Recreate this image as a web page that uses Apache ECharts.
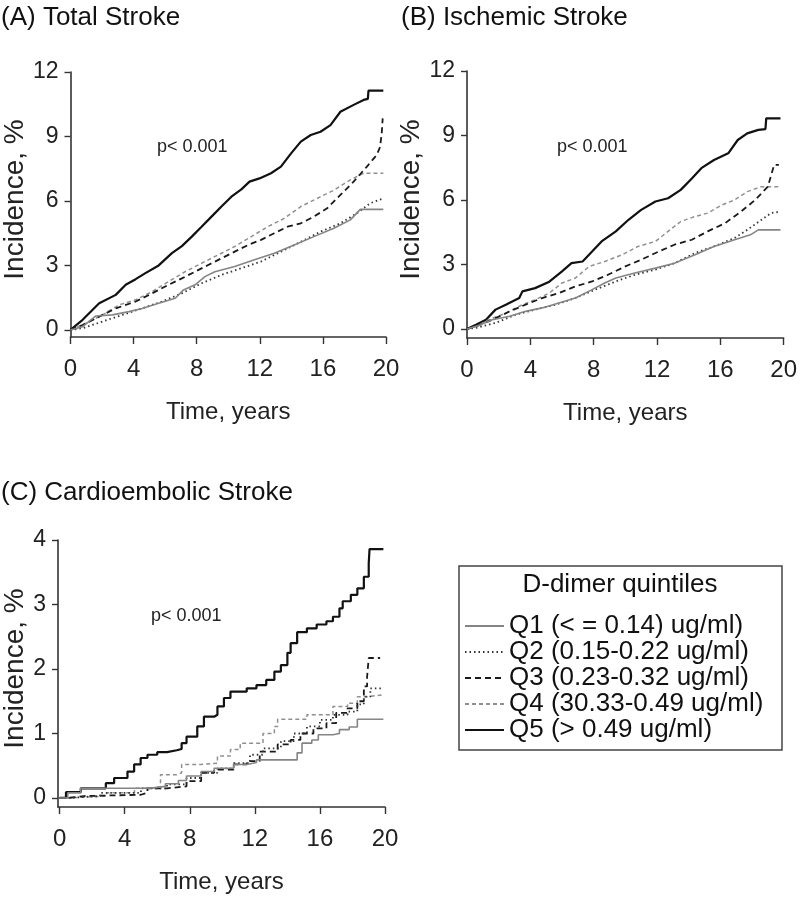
<!DOCTYPE html>
<html>
<head>
<meta charset="utf-8">
<script src="https://cdn.jsdelivr.net/npm/echarts@6/dist/echarts.min.js"></script>
<style>
html,body{margin:0;padding:0;background:#fff;}
#chart{width:800px;height:901px;}
</style>
</head>
<body>
<div id="chart"></div>
<script>
// ---------- data ----------
const seriesNames = [
  'Q1 (< = 0.14) ug/ml)',
  'Q2 (0.15-0.22 ug/ml)',
  'Q3 (0.23-0.32 ug/ml)',
  'Q4 (30.33-0.49 ug/ml)',
  'Q5 (> 0.49 ug/ml)'
];
const panelTitles = ['(A) Total Stroke', '(B) Ischemic Stroke', '(C) Cardioembolic Stroke'];
const pValueText = 'p< 0.001';
const legendTitle = 'D-dimer quintiles';
const xAxisTitle = 'Time, years';
const yAxisTitle = 'Incidence, %';
const xTicks = [0, 4, 8, 12, 16, 20];
const yTicksAB = [0, 3, 6, 9, 12];
const yTicksC = [0, 1, 2, 3, 4];

// Panel A: Total stroke
const q1A = [[0,0],[0.77,0.15],[1.61,0.65],[2.66,0.7],[3.71,0.85],[4.54,1.0],[5.59,1.24],[6.64,1.47],[7.16,1.86],[7.9,2.1],[8.52,2.48],[9.15,2.71],[10.41,2.95],[11.66,3.26],[12.92,3.57],[14.18,3.95],[15.43,4.34],[16.69,4.73],[17.74,5.12],[18.37,5.61],[19.83,5.61]];
const q2A = [[0,0],[0.77,0.08],[2.03,0.39],[3.29,0.7],[4.54,1.0],[5.8,1.32],[7.06,1.7],[8.31,2.17],[9.57,2.56],[10.83,2.87],[12.08,3.18],[13.34,3.64],[14.6,4.1],[15.85,4.57],[17.11,4.96],[18.16,5.43],[18.99,5.89],[19.83,6.12]];
const q3A = [[0,0],[0.77,0.23],[1.82,0.62],[2.87,1.0],[4.13,1.32],[5.17,1.7],[6.22,2.1],[7.06,2.4],[7.9,2.71],[8.73,3.02],[9.57,3.33],[10.41,3.64],[11.25,3.95],[12.08,4.19],[12.92,4.5],[13.76,4.8],[14.6,4.96],[15.43,5.27],[16.27,5.66],[17.11,6.28],[17.95,6.9],[18.79,7.6],[19.41,8.14],[19.62,8.5],[19.73,9.15],[19.79,9.84]];
const q4A = [[0,0],[0.77,0.23],[2.03,0.7],[3.08,1.16],[4.13,1.4],[5.17,1.78],[6.22,2.25],[7.27,2.71],[8.31,3.1],[9.36,3.49],[10.41,3.88],[11.46,4.34],[12.5,4.8],[13.55,5.19],[14.6,5.74],[15.64,6.12],[16.69,6.5],[17.74,6.98],[18.58,7.29],[19.83,7.29]];
const q5A = [[0,0],[0.77,0.47],[1.82,1.24],[2.87,1.63],[3.5,2.1],[4.13,2.36],[4.75,2.64],[5.59,3.0],[6.43,3.57],[7.06,3.9],[7.69,4.34],[8.31,4.8],[8.94,5.27],[9.57,5.74],[10.2,6.2],[10.83,6.54],[11.35,6.9],[11.98,7.05],[12.71,7.29],[13.34,7.6],[13.97,8.2],[14.6,8.76],[15.23,9.07],[15.85,9.22],[16.48,9.53],[17.11,10.15],[17.95,10.47],[18.58,10.7],[18.85,10.75],[18.89,11.13],[19.83,11.13]];

// Panel B: Ischemic stroke
const q1B = [[0,0],[0.57,0.12],[1.6,0.43],[2.7,0.59],[3.7,0.82],[4.75,0.98],[5.8,1.21],[6.85,1.44],[7.9,1.83],[8.7,2.14],[9.4,2.37],[10.6,2.6],[11.9,2.83],[13.1,3.06],[14.4,3.45],[15.6,3.84],[16.9,4.15],[17.9,4.38],[18.4,4.61],[19.8,4.61]];
const q2B = [[0,0],[0.57,0.05],[1.8,0.28],[3.1,0.67],[4.3,0.9],[5.6,1.13],[6.85,1.44],[8.1,1.83],[9.4,2.21],[10.6,2.52],[11.9,2.76],[13.1,3.06],[14.4,3.53],[15.6,3.84],[16.9,4.23],[17.7,4.61],[18.6,5.08],[19.2,5.39],[19.8,5.46]];
const q3B = [[0,0],[0.57,0.12],[1.6,0.43],[2.7,0.82],[3.7,1.13],[4.75,1.44],[5.8,1.67],[6.85,1.98],[7.9,2.21],[8.9,2.52],[10.0,2.91],[11.0,3.22],[12.1,3.6],[13.1,3.92],[14.2,4.15],[15.2,4.54],[16.3,4.92],[17.3,5.46],[18.2,6.0],[19.0,6.62],[19.4,7.63],[19.7,7.63]];
const q4B = [[0,0],[0.57,0.12],[1.4,0.43],[2.45,0.74],[3.5,1.13],[4.3,1.36],[5.2,1.67],[6.0,2.14],[6.85,2.37],[7.7,2.9],[8.7,3.14],[9.8,3.45],[10.8,3.84],[11.9,4.07],[12.7,4.54],[13.5,5.0],[14.4,5.23],[15.2,5.39],[16.1,5.77],[16.9,6.0],[17.7,6.39],[18.6,6.62],[19.8,6.62]];
const q5B = [[0,0],[0.57,0.2],[1.2,0.43],[1.8,0.9],[2.45,1.13],[3.3,1.44],[3.5,1.75],[4.3,1.9],[5.2,2.2],[6.0,2.68],[6.6,3.06],[7.3,3.14],[7.9,3.6],[8.5,4.07],[9.4,4.54],[10.2,5.08],[11.0,5.54],[11.9,5.93],[12.7,6.08],[13.5,6.47],[14.2,7.0],[14.8,7.48],[15.6,7.86],[16.5,8.17],[17.1,8.79],[17.7,9.1],[18.4,9.26],[18.85,9.3],[18.9,9.8],[19.8,9.8]];

// Panel C: Cardioembolic stroke (step curves)
const q1C = [[0,0],[0.5,0.08],[1.3,0.15],[5.5,0.18],[6.5,0.22],[7.3,0.27],[7.8,0.34],[8.7,0.41],[9.5,0.46],[10.7,0.52],[11.5,0.55],[12.1,0.59],[14.6,0.7],[14.9,0.85],[15.5,0.9],[15.9,0.98],[16.8,1.0],[17.2,1.06],[17.8,1.1],[18.3,1.22],[19.9,1.22]];
const q2C = [[0,0],[0.5,0.03],[2.5,0.08],[5.0,0.15],[6.6,0.21],[7.8,0.31],[8.7,0.39],[9.7,0.46],[10.7,0.54],[11.7,0.67],[12.5,0.77],[13.6,0.88],[14.4,1.0],[15.2,1.11],[16.0,1.21],[16.8,1.29],[17.7,1.34],[18.3,1.45],[18.7,1.57],[19.1,1.7],[19.9,1.7]];
const q3C = [[0,0],[0.5,0.03],[1.5,0.05],[5.0,0.08],[5.4,0.15],[6.6,0.18],[7.8,0.26],[8.7,0.39],[9.5,0.44],[10.7,0.52],[11.5,0.57],[12.3,0.72],[13.4,0.83],[14.2,0.9],[14.8,1.0],[15.6,1.08],[16.4,1.16],[17.0,1.32],[17.7,1.39],[18.3,1.5],[18.7,1.73],[18.9,1.88],[19.0,2.17],[19.7,2.17]];
const q4C = [[0,0],[0.5,0.03],[2.9,0.08],[4.6,0.15],[5.8,0.18],[6.2,0.36],[7.2,0.39],[7.5,0.52],[8.7,0.54],[9.7,0.65],[10.5,0.75],[11.1,0.85],[12.5,1.0],[13.2,1.11],[13.4,1.22],[15.2,1.29],[16.8,1.42],[17.7,1.47],[18.3,1.57],[18.9,1.6],[19.9,1.6]];
const q5C = [[0,0],[0.39,0.09],[1.3,0.15],[2.84,0.23],[3.35,0.31],[4.17,0.41],[4.58,0.52],[4.98,0.62],[5.4,0.67],[6.0,0.71],[6.6,0.74],[7.2,0.76],[7.5,0.85],[7.8,0.95],[8.46,1.11],[8.87,1.26],[9.5,1.29],[9.7,1.42],[10.1,1.55],[10.5,1.65],[11.5,1.7],[12.1,1.75],[12.7,1.83],[13.2,1.96],[13.6,2.06],[14.0,2.25],[14.2,2.4],[14.6,2.57],[15.2,2.63],[15.8,2.69],[16.4,2.74],[16.8,2.81],[17.2,2.94],[17.4,3.05],[17.9,3.15],[18.3,3.25],[18.7,3.43],[19.0,3.64],[19.05,3.86],[19.9,3.86]];

// ---------- styling / layout ----------
const REG = '"Liberation Sans", Arial, Helvetica, sans-serif';
const lineStyles = [
  {color:'#858585', width:1.6, type:'solid'},
  {color:'#333333', width:1.8, type:[1.5,3]},
  {color:'#1a1a1a', width:1.8, type:[6,4]},
  {color:'#909090', width:1.5, type:[4,3]},
  {color:'#111111', width:2.2, type:'solid'}
];
const grids = [
  {left:67, top:72, width:319, height:265},
  {left:467, top:71, width:319, height:267},
  {left:57, top:540, width:328, height:267}
];
function xAx(i, min){
  return {
    type:'value', gridIndex:i, min:min, max:20,
    name:xAxisTitle, nameLocation:'middle', nameGap:63,
    nameTextStyle:{fontFamily:REG, fontSize:24, color:'#222'},
    axisLine:{show:true, onZero:false, lineStyle:{color:'#333', width:1.6}},
    axisTick:{show:true, length:7, customValues:xTicks, lineStyle:{color:'#333', width:1.4}},
    axisLabel:{customValues:xTicks, margin:20, fontFamily:REG, fontSize:24, color:'#222'},
    splitLine:{show:false}
  };
}
function yAx(i, min, max, ticks, gap){
  return {
    type:'value', gridIndex:i, min:min, max:max,
    name:yAxisTitle, nameLocation:'middle', nameGap:gap, nameRotate:90,
    nameTextStyle:{fontFamily:REG, fontSize:28, color:'#222', padding:[0,0,0,10]},
    axisLine:{show:true, onZero:false, lineStyle:{color:'#333', width:1.6}},
    axisTick:{show:true, length:6, customValues:ticks, lineStyle:{color:'#333', width:1.4}},
    axisLabel:{customValues:ticks, margin:12, fontFamily:REG, fontSize:23, color:'#222'},
    splitLine:{show:false}
  };
}
const panelData = [[q1A,q2A,q3A,q4A,q5A],[q1B,q2B,q3B,q4B,q5B],[q1C,q2C,q3C,q4C,q5C]];
const series = [];
panelData.forEach((arr, p) => {
  arr.forEach((d, k) => {
    series.push({
      type:'line', name:seriesNames[k], xAxisIndex:p, yAxisIndex:p,
      data:d, symbol:'none', showSymbol:false, animation:false,
      step: p === 2 ? 'end' : false,
      lineStyle:Object.assign({}, lineStyles[k]),
      itemStyle:{color:lineStyles[k].color},
      z: 10 - k
    });
  });
});

const titleStyle = {fontFamily:REG, fontSize:26, fontWeight:'normal', color:'#111'};
const pStyle = {fontFamily:REG, fontSize:18, fontWeight:'normal', color:'#222'};
const option = {
  backgroundColor:'#fff',
  animation:false,
  title:[
    {text:panelTitles[0], left:1, top:5, padding:0, textStyle:titleStyle},
    {text:panelTitles[1], left:401, top:5, padding:0, textStyle:titleStyle},
    {text:panelTitles[2], left:1, top:480, padding:0, textStyle:titleStyle},
    {text:pValueText, left:157, top:138, padding:0, textStyle:pStyle},
    {text:pValueText, left:557, top:138, padding:0, textStyle:pStyle},
    {text:pValueText, left:151, top:607, padding:0, textStyle:pStyle},
    {text:legendTitle, left:620, textAlign:'center', top:572, padding:0, textStyle:{fontFamily:REG, fontSize:26, fontWeight:'normal', color:'#111'}}
  ],
  legend:{
    orient:'vertical', left:464, top:613, padding:0,
    itemWidth:39, itemHeight:10, itemGap:0,
    data:seriesNames,
    selectedMode:false,
    itemStyle:{color:'rgba(0,0,0,0)', borderWidth:0, borderColor:'rgba(0,0,0,0)', opacity:0},
    textStyle:{fontFamily:REG, fontSize:26, lineHeight:26, color:'#111'}
  },
  graphic:[
    {type:'rect', shape:{x:459, y:566, width:323, height:184}, style:{fill:'none', stroke:'#444', lineWidth:1.5}, silent:true}
  ],
  grid:grids,
  xAxis:[xAx(0,0), xAx(1,0), xAx(2,-0.1)],
  yAxis:[yAx(0,-0.33,12,yTicksAB,35), yAx(1,-0.42,12,yTicksAB,35), yAx(2,-0.14,4,yTicksC,29)],
  series:series
};
const chart = echarts.init(document.getElementById('chart'), null, {renderer:'canvas'});
chart.setOption(option);
</script>
</body>
</html>
